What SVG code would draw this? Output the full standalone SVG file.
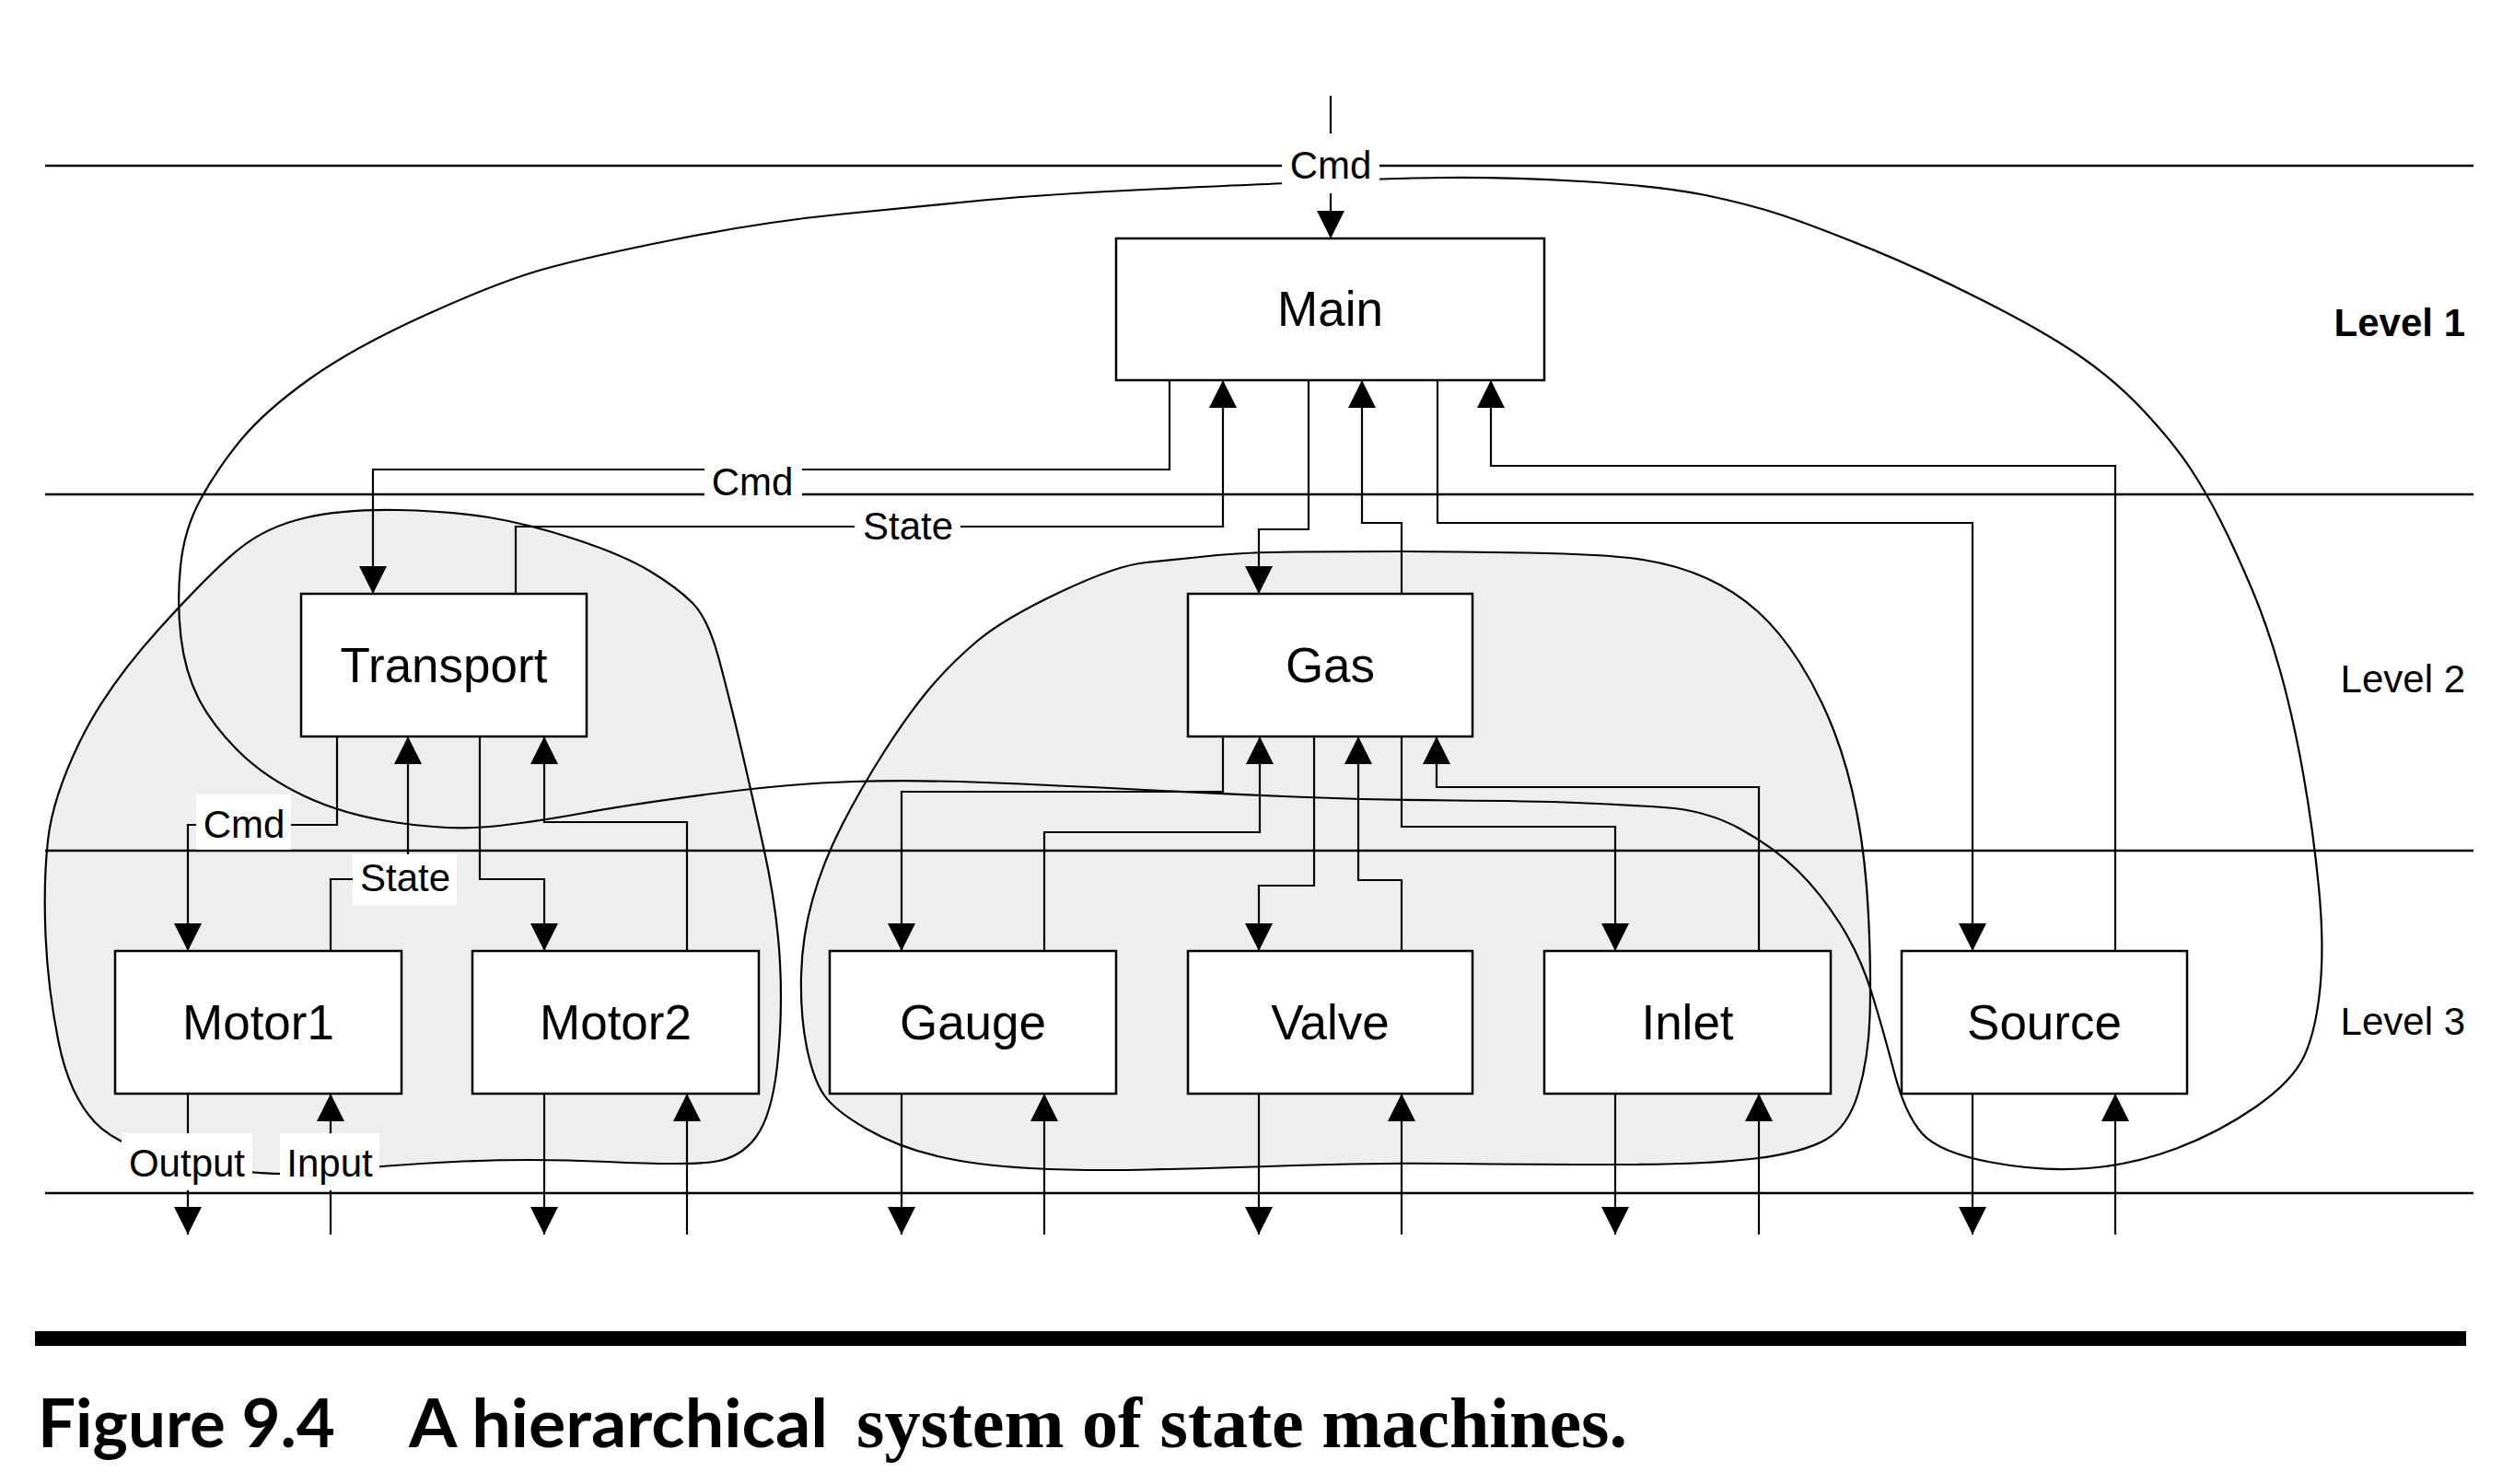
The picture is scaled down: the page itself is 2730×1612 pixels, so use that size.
<svg xmlns="http://www.w3.org/2000/svg" width="2730" height="1612" viewBox="0 0 2730 1612">
<defs>
<marker id="arr" markerUnits="userSpaceOnUse" markerWidth="30" markerHeight="30" viewBox="0 0 30 30" refX="30" refY="15" orient="auto">
<path d="M0,0 L30,15 L0,30 Z" fill="#000"/>
</marker>
<style>
.lvl{stroke:#000;stroke-width:2.5;fill:none}
.box{fill:#fff;stroke:#000;stroke-width:2.5}
.blob{fill:#eeeeee;stroke:#000;stroke-width:2.2}
.curve{fill:none;stroke:#000;stroke-width:2.2}
.c{fill:none;stroke:#000;stroke-width:2.2}
.a{marker-end:url(#arr)}
.nt{font-family:"Liberation Sans",Arial,sans-serif;font-size:53px;text-anchor:middle;fill:#000}
.lt{font-family:"Liberation Sans",Arial,sans-serif;font-size:42px;text-anchor:middle;fill:#000}
.lv{font-family:"Liberation Sans",Arial,sans-serif;font-size:42px;text-anchor:end;fill:#000}
.bg{fill:#fff;stroke:none}
</style>
</defs>
<rect width="2730" height="1612" fill="#fff"/>

<g id="blobs">
<path class="blob" d="M 331.5,562.5 Q 373,553 430.5,554 Q 488,555 531,562 Q 574,569 625.5,586 Q 677,603 706,620.5 Q 735,638 752,655 Q 769,672 780.5,715 Q 792,758 803.5,807 Q 815,856 829.5,922 Q 844,988 847,1045.5 Q 850,1103 844,1157.5 Q 838,1212 821,1235 Q 804,1258 775,1262 Q 746,1266 660,1262 Q 574,1258 493.5,1262 Q 413,1266 351.5,1273 Q 290,1280 210.5,1264.5 Q 131,1249 103,1219 Q 75,1189 63.5,1131.5 Q 52,1074 49.5,1016.5 Q 47,959 52,913 Q 57,867 86,807 Q 115,747 172.5,683.5 Q 230,620 260,596 Q 290,572 331.5,562.5 Z"/>
<path class="blob" d="M 1151.5,643 Q 1213,614 1244,611 Q 1275,608 1312.5,604 Q 1350,600 1404.5,599.5 Q 1459,599 1516.5,599 Q 1574,599 1660,600.5 Q 1746,602 1784,608 Q 1822,614 1853,628 Q 1884,642 1908.5,664 Q 1933,686 1954.5,720 Q 1976,754 1991.5,794 Q 2007,834 2016.5,883.5 Q 2026,933 2029,995 Q 2032,1057 2030.5,1103.5 Q 2029,1150 2018,1187 Q 2007,1224 1982.5,1238 Q 1958,1252 1905.5,1258.5 Q 1853,1265 1758.5,1265 Q 1664,1265 1577.5,1264 Q 1491,1263 1405,1266 Q 1319,1269 1247.5,1270.5 Q 1176,1272 1118.5,1269 Q 1061,1266 1018,1256 Q 975,1246 940.5,1226 Q 906,1206 894.5,1189 Q 883,1172 876,1137.5 Q 869,1103 870,1060 Q 871,1017 882.5,976.5 Q 894,936 914.5,896 Q 935,856 960.5,816 Q 986,776 1009,748.5 Q 1032,721 1061,696.5 Q 1090,672 1151.5,643 Z"/>
</g>

<g id="levels">
<line class="lvl" x1="49" y1="180" x2="2686" y2="180"/>
<line class="lvl" x1="49" y1="537" x2="2686" y2="537"/>
<line class="lvl" x1="49" y1="924" x2="2686" y2="924"/>
<line class="lvl" x1="49" y1="1296" x2="2686" y2="1296"/>
<text class="lv" x="2677" y="365" font-weight="bold">Level 1</text>
<text class="lv" x="2677" y="752">Level 2</text>
<text class="lv" x="2677" y="1124">Level 3</text>
</g>

<g id="outer-curve">
<path class="curve" d="M 1417.5,198.5 Q 1445,198 1471,196 Q 1497,194 1564,193 Q 1631,192 1717.5,197 Q 1804,202 1852,212 Q 1900,222 1934.5,233.5 Q 1969,245 2027,268.5 Q 2085,292 2151.5,325.5 Q 2218,359 2257.5,386 Q 2297,413 2329,447.5 Q 2361,482 2379,509.5 Q 2397,537 2412.5,568 Q 2428,599 2445,639 Q 2462,679 2476,728.5 Q 2490,778 2501,840 Q 2512,902 2518,964 Q 2524,1026 2519.5,1072.5 Q 2515,1119 2502.5,1146.5 Q 2490,1174 2450,1202 Q 2410,1230 2363.5,1247.5 Q 2317,1265 2267.5,1269 Q 2218,1273 2162,1262.5 Q 2106,1252 2087.5,1231.5 Q 2069,1211 2057,1165 Q 2045,1119 2032.5,1078.5 Q 2020,1038 1998.5,1004 Q 1977,970 1952,945.5 Q 1927,921 1890,900.5 Q 1853,880 1806.5,877 Q 1760,874 1712,872 Q 1664,870 1577.5,869.5 Q 1491,869 1405,865.5 Q 1319,862 1233,857.5 Q 1147,853 1069.5,850 Q 992,847 926,849 Q 860,851 774.5,862 Q 689,873 631.5,883.5 Q 574,894 531,898 Q 488,902 430.5,893.5 Q 373,885 330,864.5 Q 287,844 258.5,815.5 Q 230,787 215.5,758.5 Q 201,730 196.5,692.5 Q 192,655 196,615 Q 200,575 218,542 Q 236,509 261.5,478 Q 287,447 335,412.5 Q 383,378 462.5,342 Q 542,306 590,292.5 Q 638,279 733.5,260 Q 829,241 914.5,232.5 Q 1000,224 1067.5,217.5 Q 1135,211 1262.5,205 Q 1390,199 1417.5,198.5 Z"/>
</g>

<g id="node-main"><rect class="box" x="1212" y="259" width="465" height="154"/><text class="nt" x="1444.5" y="354">Main</text></g>
<g id="node-transport"><rect class="box" x="327" y="645" width="310" height="155"/><text class="nt" x="482" y="741">Transport</text></g>
<g id="node-gas"><rect class="box" x="1290" y="645" width="309" height="155"/><text class="nt" x="1444.5" y="741">Gas</text></g>
<g id="node-motor1"><rect class="box" x="125" y="1033" width="311" height="155"/><text class="nt" x="280.5" y="1129">Motor1</text></g>
<g id="node-motor2"><rect class="box" x="513" y="1033" width="311" height="155"/><text class="nt" x="668.5" y="1129">Motor2</text></g>
<g id="node-gauge"><rect class="box" x="901" y="1033" width="311" height="155"/><text class="nt" x="1056.5" y="1129">Gauge</text></g>
<g id="node-valve"><rect class="box" x="1290" y="1033" width="309" height="155"/><text class="nt" x="1444.5" y="1129">Valve</text></g>
<g id="node-inlet"><rect class="box" x="1677" y="1033" width="311" height="155"/><text class="nt" x="1832.5" y="1129">Inlet</text></g>
<g id="node-source"><rect class="box" x="2065" y="1033" width="310" height="155"/><text class="nt" x="2220" y="1129">Source</text></g>

<g id="connectors">
<polyline class="c a" points="1445,104 1445,259"/>
<polyline class="c a" points="1270,413 1270,510 405,510 405,645"/>
<polyline class="c a" points="560,645 560,572 1328,572 1328,413"/>
<polyline class="c a" points="1421,413 1421,575 1367,575 1367,645"/>
<polyline class="c a" points="1522,645 1522,568 1479,568 1479,413"/>
<polyline class="c a" points="1561,413 1561,568 2142,568 2142,1033"/>
<polyline class="c a" points="2297,1033 2297,506 1619,506 1619,413"/>
<polyline class="c a" points="366,800 366,896 204,896 204,1033"/>
<polyline class="c a" points="359,1033 359,955 443,955 443,800"/>
<polyline class="c a" points="521,800 521,955 591,955 591,1033"/>
<polyline class="c a" points="746,1033 746,893 591,893 591,800"/>
<polyline class="c a" points="1328,800 1328,860 979,860 979,1033"/>
<polyline class="c a" points="1134,1033 1134,904 1368,904 1368,800"/>
<polyline class="c a" points="1427,800 1427,962 1367,962 1367,1033"/>
<polyline class="c a" points="1522,1033 1522,956 1475,956 1475,800"/>
<polyline class="c a" points="1522,800 1522,898 1754,898 1754,1033"/>
<polyline class="c a" points="1910,1033 1910,855 1560,855 1560,800"/>
<line class="c a" x1="204" y1="1188" x2="204" y2="1341"/>
<line class="c a" x1="359" y1="1341" x2="359" y2="1188"/>
<line class="c a" x1="591" y1="1188" x2="591" y2="1341"/>
<line class="c a" x1="746" y1="1341" x2="746" y2="1188"/>
<line class="c a" x1="979" y1="1188" x2="979" y2="1341"/>
<line class="c a" x1="1134" y1="1341" x2="1134" y2="1188"/>
<line class="c a" x1="1367" y1="1188" x2="1367" y2="1341"/>
<line class="c a" x1="1522" y1="1341" x2="1522" y2="1188"/>
<line class="c a" x1="1754" y1="1188" x2="1754" y2="1341"/>
<line class="c a" x1="1910" y1="1341" x2="1910" y2="1188"/>
<line class="c a" x1="2142" y1="1188" x2="2142" y2="1341"/>
<line class="c a" x1="2297" y1="1341" x2="2297" y2="1188"/>
</g>

<g id="labels">
<rect class="bg" x="1392" y="145" width="106" height="65"/>
<text class="lt" x="1445" y="194">Cmd</text>
<rect class="bg" x="765" y="503" width="106" height="42"/>
<text class="lt" x="817" y="538">Cmd</text>
<rect class="bg" x="928" y="550" width="115" height="42"/>
<text class="lt" x="986" y="586">State</text>
<rect class="bg" x="213" y="863" width="103" height="60"/>
<text class="lt" x="265" y="910">Cmd</text>
<rect class="bg" x="383" y="928" width="113" height="55"/>
<text class="lt" x="440" y="968">State</text>
<rect class="bg" x="132" y="1231" width="142" height="62"/>
<text class="lt" x="203" y="1278">Output</text>
<rect class="bg" x="304" y="1231" width="108" height="62"/>
<text class="lt" x="358" y="1278">Input</text>
</g>

<g id="caption">
<rect x="38" y="1446" width="2640" height="16" fill="#000"/>
<text x="41" y="1572" font-family="Lato,'Open Sans',sans-serif" font-weight="bold" font-size="72" textLength="323" lengthAdjust="spacingAndGlyphs">Figure 9.4</text>
<text x="444" y="1572" font-family="Lato,'Open Sans',sans-serif" font-weight="bold" font-size="72" textLength="455" lengthAdjust="spacingAndGlyphs">A hierarchical</text>
<text x="930" y="1572" font-family="'Liberation Serif','Times New Roman',serif" font-weight="bold" font-size="78" textLength="837" lengthAdjust="spacingAndGlyphs">system of state machines.</text>
</g>
</svg>
